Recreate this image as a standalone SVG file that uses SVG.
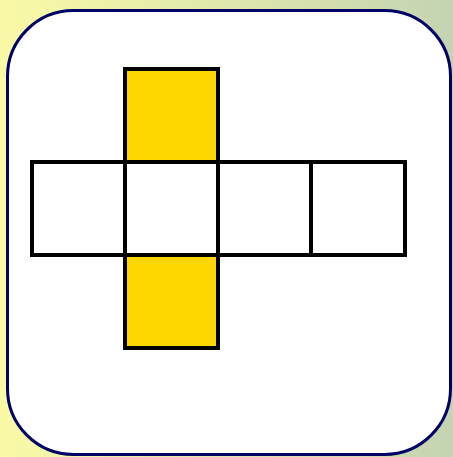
<svg xmlns="http://www.w3.org/2000/svg" width="453" height="457" viewBox="0 0 453 457">
<defs>
<linearGradient id="bg" x1="0" y1="0" x2="1" y2="0">
<stop offset="0" stop-color="#FAFAA6"/>
<stop offset="1" stop-color="#C4D4B2"/>
</linearGradient>
<style>
.sq{stroke:#000;stroke-width:4;}
.w{fill:#FFFFFF;}
.y{fill:#FFD700;}
</style>
</defs>
<rect x="0" y="0" width="453" height="457" fill="url(#bg)"/>
<rect x="7.5" y="10.5" width="443" height="444" rx="66" ry="66" fill="#FFFFFF" stroke="#000066" stroke-width="3"/>
<g id="net">
<g id="top"><rect class="sq y" x="125" y="69" width="93" height="93"/></g>
<g id="left"><rect class="sq w" x="32" y="162" width="93" height="93"/></g>
<g id="center"><rect class="sq w" x="125" y="162" width="93" height="93"/></g>
<g id="right"><rect class="sq w" x="218" y="162" width="93" height="93"/></g>
<g id="far-right"><rect class="sq w" x="311" y="162" width="94" height="93"/></g>
<g id="bottom"><rect class="sq y" x="125" y="255" width="93" height="93"/></g>
</g>
<g id="connectors"></g>
</svg>
